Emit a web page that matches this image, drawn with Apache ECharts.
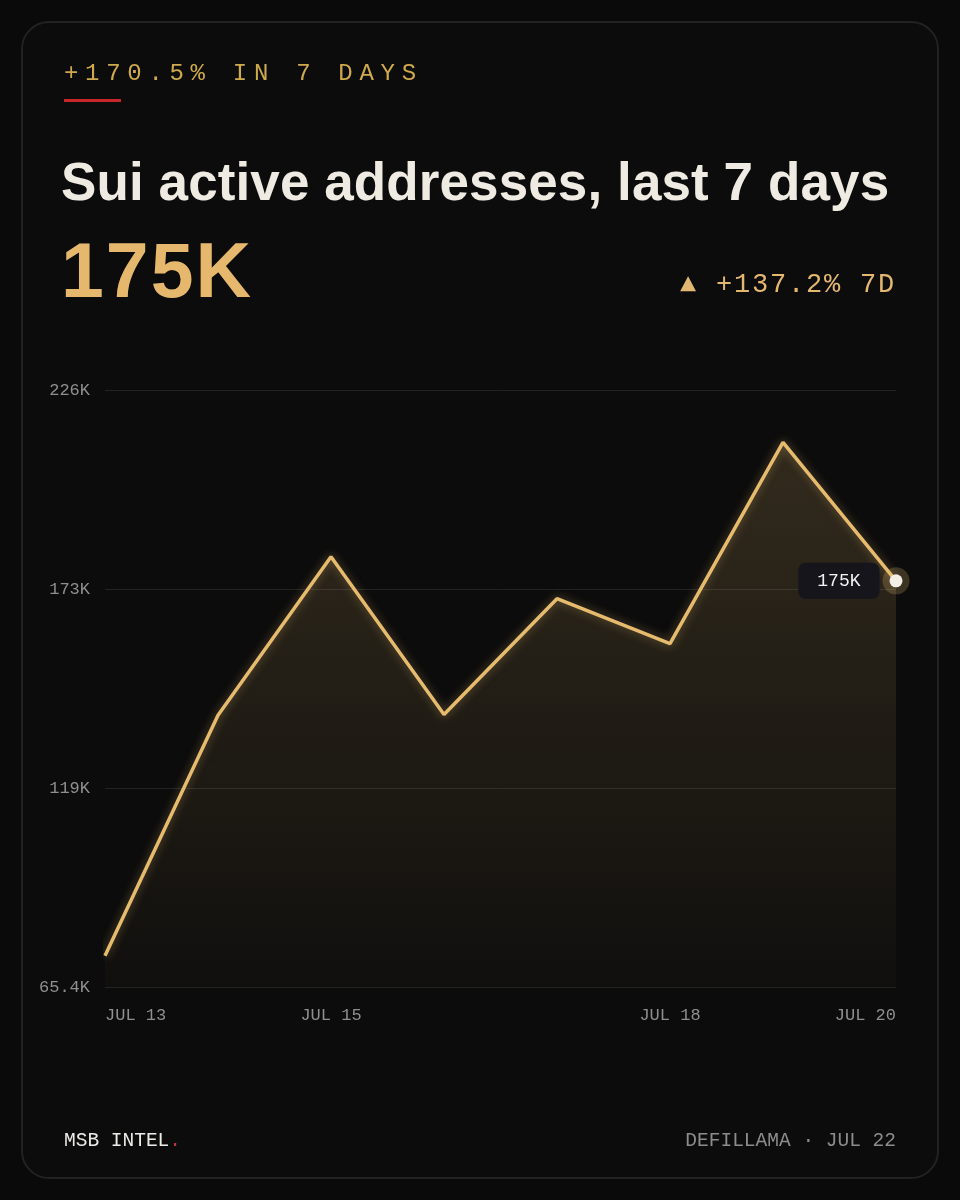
<!DOCTYPE html>
<html>
<head>
<meta charset="utf-8">
<script src="https://cdn.jsdelivr.net/npm/echarts@6/dist/echarts.min.js"></script>
<style>
  html, body {
    margin: 0;
    padding: 0;
    background: #0a0a0a;
  }
  .page {
    position: relative;
    width: 960px;
    height: 1200px;
    overflow: hidden;
  }
  .card {
    position: absolute;
    left: 21px;
    top: 21px;
    width: 914px;
    height: 1154px;
    border: 2px solid #222222;
    border-radius: 28px;
    background: #0c0c0c;
  }
  #chart {
    position: absolute;
    left: 0;
    top: 0;
    width: 960px;
    height: 1200px;
  }
  .mono {
    font-family: "Liberation Mono", "DejaVu Sans Mono", monospace;
  }
  .kicker {
    position: absolute;
    left: 64px;
    top: 60px;
    font-size: 24px;
    letter-spacing: 6.7px;
    color: #cfaa4c;
    white-space: nowrap;
  }
  .kicker-bar {
    position: absolute;
    left: 64px;
    top: 99px;
    width: 57px;
    height: 3px;
    background: #c8262a;
  }
  .title {
    position: absolute;
    left: 61px;
    top: 151px;
    font-family: "Liberation Sans", Arial, sans-serif;
    font-weight: bold;
    font-size: 53px;
    letter-spacing: 0.1px;
    color: #efebe3;
    white-space: nowrap;
  }
  .big {
    position: absolute;
    left: 61px;
    top: 226px;
    font-family: "Liberation Sans", Arial, sans-serif;
    font-weight: bold;
    font-size: 77px;
    letter-spacing: 2px;
    color: #e5b86e;
  }
  .delta {
    position: absolute;
    right: 64px;
    top: 270px;
    font-size: 27px;
    letter-spacing: 1.8px;
    color: #e3b76f;
    white-space: nowrap;
  }
  .foot-left {
    position: absolute;
    left: 64px;
    top: 1130px;
    font-size: 19.5px;
    color: #ecebe8;
  }
  .foot-left span { color: #c23346; }
  .foot-right {
    position: absolute;
    right: 64px;
    top: 1130px;
    font-size: 19.5px;
    color: #8c8c8c;
    white-space: nowrap;
  }
</style>
</head>
<body>
<div class="page">
  <div class="card"></div>
  <div id="chart"></div>
  <div class="kicker mono">+170.5% IN 7 DAYS</div>
  <div class="kicker-bar"></div>
  <div class="title">Sui active addresses, last 7 days</div>
  <div class="big">175K</div>
  <div class="delta mono">▲ +137.2% 7D</div>
  <div class="foot-left mono">MSB INTEL<span>.</span></div>
  <div class="foot-right mono">DEFILLAMA · JUL 22</div>
</div>

<script>
// daily active addresses
const days = ['JUL 13', 'JUL 14', 'JUL 15', 'JUL 16', 'JUL 17', 'JUL 18', 'JUL 19', 'JUL 20']
const activeAddresses = [73800, 138600, 181300, 138800, 170000, 157900, 212100, 174800]
const shownDayIndexes = [0, 2, 5, 7]
const yMin = 65400
const yMax = 226200
const yStep = 53600

const gold = '#e6bb6e'
const mono = '"Liberation Mono", "DejaVu Sans Mono", monospace'
const last = activeAddresses.length - 1

function fmtK(v) {
  return v >= 100000 ? Math.round(v / 1000) + 'K' : (v / 1000).toFixed(1) + 'K'
}

const chart = echarts.init(document.getElementById('chart'))

chart.setOption({
  animation: false,
  grid: {
    left: 105,
    right: 64,
    top: 390,
    bottom: 213
  },
  xAxis: {
    type: 'category',
    boundaryGap: false,
    data: days,
    axisLine: { show: false },
    axisTick: { show: false },
    axisLabel: {
      interval: (i) => shownDayIndexes.includes(i),
      color: '#8f8f8f',
      fontFamily: mono,
      fontSize: 17,
      margin: 20,
      alignMinLabel: 'left',
      alignMaxLabel: 'right'
    }
  },
  yAxis: {
    type: 'value',
    min: yMin,
    max: yMax,
    interval: yStep,
    axisLine: { show: false },
    axisTick: { show: false },
    splitLine: { lineStyle: { color: '#232323', width: 1 } },
    axisLabel: {
      formatter: fmtK,
      color: '#8f8f8f',
      fontFamily: mono,
      fontSize: 17,
      margin: 15
    }
  },
  series: [
    {
      name: 'active addresses',
      type: 'line',
      z: 3,
      data: activeAddresses.map((v, i) => i === last ? {
        value: v,
        symbol: 'circle',
        symbolSize: 13,
        itemStyle: { color: '#f3efe6', borderWidth: 0 },
        label: {
          show: true,
          position: 'left',
          distance: 10,
          formatter: (p) => fmtK(p.value),
          backgroundColor: '#15151b',
          borderRadius: 7,
          padding: [9, 19],
          color: '#f2f2f2',
          fontFamily: mono,
          fontSize: 18
        }
      } : { value: v, symbol: 'none' }),
      showAllSymbol: true,
      lineStyle: {
        color: gold,
        width: 3.5,
        shadowBlur: 10,
        shadowColor: 'rgba(230,187,110,0.45)'
      },
      areaStyle: {
        color: new echarts.graphic.LinearGradient(0, 0, 0, 1, [
          { offset: 0, color: 'rgba(230,187,110,0.25)' },
          { offset: 1, color: 'rgba(230,187,110,0.03)' }
        ])
      }
    },
    {
      // halo behind the last point
      type: 'scatter',
      z: 2,
      silent: true,
      symbolSize: 27,
      itemStyle: { color: 'rgba(230,187,110,0.28)' },
      data: activeAddresses.map((v, i) => i === last ? v : null)
    }
  ]
})
</script>
</body>
</html>
